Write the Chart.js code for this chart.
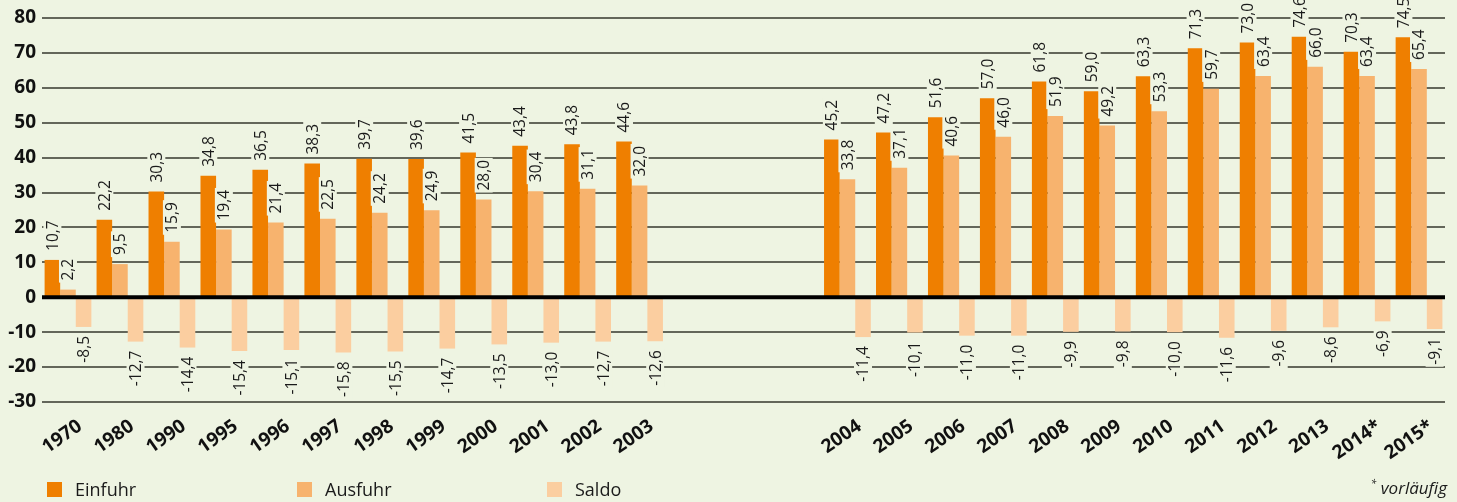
<!DOCTYPE html>
<html>
<head>
<meta charset="utf-8">
<script src="https://cdn.jsdelivr.net/npm/chart.js@4.4.1/dist/chart.umd.min.js"></script>
<style>
  body { margin: 0; background: #eef4e2; }
  .wrap { position: relative; width: 1457px; height: 502px; }
  canvas { position: absolute; left: 0; top: 0; }
  .legend { position: absolute; top: 477px; font-family: 'Open Sans', sans-serif; font-size: 18px; color: #1a1a1a; }
  .legend span.box { display: inline-block; width: 15px; height: 15px; vertical-align: -1px; margin-right: 13px; }
  .note { position: absolute; top: 476px; right: 10px; font-family: 'Open Sans', sans-serif; font-style: italic; font-size: 17px; color: #1a1a1a; }
  .note sup { font-size: 10px; }
</style>
</head>
<body>
<div class="wrap">
  <canvas id="tradeChart" width="1457" height="502"></canvas>
  <div class="legend" style="left:47px"><span class="box" style="background:#ef7f00"></span>Einfuhr</div>
  <div class="legend" style="left:297px"><span class="box" style="background:#f7b36e"></span>Ausfuhr</div>
  <div class="legend" style="left:547px"><span class="box" style="background:#fbcea0"></span>Saldo</div>
  <div class="note"><sup>*</sup> vorläufig</div>
</div>
<script>
// Kategorien (drei leere Plätze bilden die Lücke zwischen 2003 und 2004)
const categories = [
  '1970', '1980', '1990', '1995', '1996', '1997', '1998', '1999', '2000', '2001', '2002', '2003',
  '', '', '',
  '2004', '2005', '2006', '2007', '2008', '2009', '2010', '2011', '2012', '2013', '2014*', '2015*'
];

const einfuhr = [
  10.7, 22.2, 30.3, 34.8, 36.5, 38.3, 39.7, 39.6, 41.5, 43.4, 43.8, 44.6,
  null, null, null,
  45.2, 47.2, 51.6, 57.0, 61.8, 59.0, 63.3, 71.3, 73.0, 74.6, 70.3, 74.5
];

const ausfuhr = [
  2.2, 9.5, 15.9, 19.4, 21.4, 22.5, 24.2, 24.9, 28.0, 30.4, 31.1, 32.0,
  null, null, null,
  33.8, 37.1, 40.6, 46.0, 51.9, 49.2, 53.3, 59.7, 63.4, 66.0, 63.4, 65.4
];

const saldo = [
  -8.5, -12.7, -14.4, -15.4, -15.1, -15.8, -15.5, -14.7, -13.5, -13.0, -12.7, -12.6,
  null, null, null,
  -11.4, -10.1, -11.0, -11.0, -9.9, -9.8, -10.0, -11.6, -9.6, -8.6, -6.9, -9.1
];

const yMin = -30;
const yMax = 80;
const yStep = 10;

const BG = '#eef4e2';

// Werte senkrecht über/unter den Balken, mit Hintergrundfeld
const valueLabels = {
  id: 'valueLabels',
  afterDatasetsDraw(chart) {
    const ctx = chart.ctx;
    ctx.save();
    ctx.font = '15.5px "Open Sans", sans-serif';
    ctx.textBaseline = 'middle';
    chart.data.datasets.forEach((ds, i) => {
      const meta = chart.getDatasetMeta(i);
      meta.data.forEach((bar, j) => {
        const v = ds.data[j];
        if (v === null || v === undefined) return;
        const text = v.toFixed(1).replace('.', ',');
        const w = ctx.measureText(text).width;
        const off = 9;
        ctx.save();
        ctx.translate(bar.x, bar.y + (v >= 0 ? -off : off));
        ctx.rotate(-Math.PI / 2);
        ctx.fillStyle = BG;
        if (v >= 0) {
          ctx.fillRect(-2, -9, w + 4, 18);
          ctx.fillStyle = '#1a1a1a';
          ctx.textAlign = 'left';
        } else {
          ctx.fillRect(-w - 2, -9, w + 4, 18);
          ctx.fillStyle = '#1a1a1a';
          ctx.textAlign = 'right';
        }
        ctx.fillText(text, 0, 1);
        ctx.restore();
      });
    });
    // Nulllinie über allem
    const y0 = chart.scales.y.getPixelForValue(0);
    ctx.strokeStyle = '#000';
    ctx.lineWidth = 4;
    ctx.beginPath();
    ctx.moveTo(chart.chartArea.left, y0);
    ctx.lineTo(chart.chartArea.right, y0);
    ctx.stroke();
    ctx.restore();
  }
};

const ctx = document.getElementById('tradeChart').getContext('2d');
new Chart(ctx, {
  type: 'bar',
  data: {
    labels: categories,
    datasets: [
      { label: 'Einfuhr', data: einfuhr, backgroundColor: '#ef7f00' },
      { label: 'Ausfuhr', data: ausfuhr, backgroundColor: '#f7b36e' },
      { label: 'Saldo', data: saldo, backgroundColor: '#fbcea0' }
    ]
  },
  options: {
    responsive: false,
    animation: false,
    events: [],
    layout: { padding: { top: 18, right: 12, left: 0, bottom: 0 } },
    datasets: {
      bar: { categoryPercentage: 0.9, barPercentage: 1.0, borderWidth: 0 }
    },
    plugins: {
      legend: { display: false },
      tooltip: { enabled: false }
    },
    scales: {
      x: {
        grid: { display: false, drawTicks: false },
        border: { display: false },
        afterFit(scale) { scale.height = 100; },
        ticks: {
          autoSkip: false,
          minRotation: 35,
          maxRotation: 35,
          padding: 13,
          labelOffset: 12,
          color: '#111',
          font: { family: 'Open Sans', weight: 'bold', size: 19 }
        }
      },
      y: {
        min: yMin,
        max: yMax,
        afterFit(scale) { scale.width = 42; },
        border: { display: false },
        grid: {
          drawTicks: false,
          color: '#63665a',
          lineWidth: 2
        },
        ticks: {
          stepSize: yStep,
          padding: 6,
          color: '#111',
          font: { family: 'Open Sans', weight: 'bold', size: 19 }
        }
      }
    }
  },
  plugins: [valueLabels]
});
</script>
</body>
</html>
